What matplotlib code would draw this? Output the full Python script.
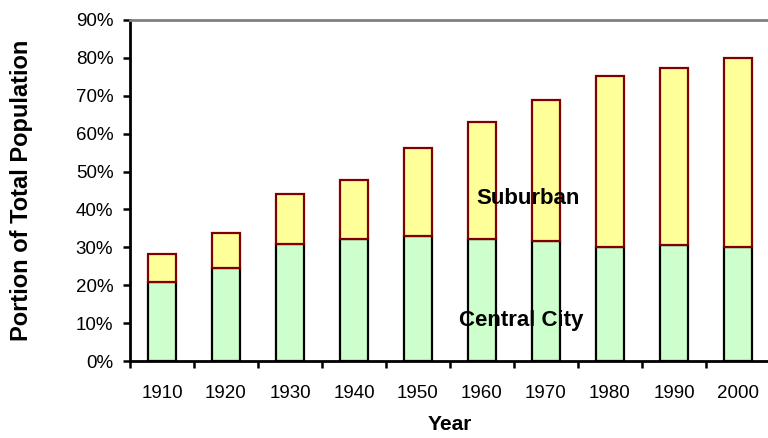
import matplotlib.pyplot as plt
import numpy as np

plt.rcParams['font.family'] = ['Liberation Sans', 'DejaVu Sans']

years = ['1910', '1920', '1930', '1940', '1950', '1960', '1970', '1980', '1990', '2000']
central_city = [20.9, 24.5, 30.9, 32.3, 33.0, 32.3, 31.6, 30.2, 30.7, 30.2]
total = [28.2, 33.7, 44.2, 47.8, 56.3, 63.2, 68.9, 75.2, 77.3, 80.1]
suburban = [t - c for t, c in zip(total, central_city)]

fig = plt.figure(figsize=(7.68, 4.38), dpi=100)
ax = fig.add_axes([130 / 768, 1 - 361 / 438, 640 / 768, 341 / 438])

x = np.arange(len(years))
ax.bar(x, central_city, width=0.44, color='#CCFFCC', edgecolor='black', linewidth=1.6)
ax.bar(x, suburban, width=0.44, bottom=central_city, color='#FFFF99',
       edgecolor='#800000', linewidth=1.6)

ax.set_xlim(-0.5, len(years) - 0.5)
ax.set_ylim(0, 90)
ax.set_yticks(np.arange(0, 91, 10))
ax.set_yticklabels([f'{v}%' for v in range(0, 91, 10)], fontsize=13.5)

ax.set_xticks(np.arange(-0.5, len(years)), labels=[])
ax.set_xticks(x, labels=years, minor=True)
ax.tick_params(axis='x', which='major', direction='out', length=5, width=1.8)
ax.tick_params(axis='x', which='minor', length=0, pad=17, labelsize=13.5)
ax.tick_params(axis='y', direction='out', length=5, width=1.8, pad=7)

for s in ['left', 'bottom']:
    ax.spines[s].set_linewidth(2)
ax.spines['right'].set_visible(False)
ax.spines['top'].set_color('#808080')
ax.spines['top'].set_linewidth(2)

ax.text(5.72, 43, 'Suburban', ha='center', va='center', fontsize=16, fontweight='bold')
ax.text(5.62, 10.7, 'Central City', ha='center', va='center', fontsize=16, fontweight='bold')

ax.set_ylabel('Portion of Total Population', fontsize=17, fontweight='bold')
ax.yaxis.set_label_coords(-0.152, 0.5)
ax.set_xlabel('Year', fontsize=15, fontweight='bold')
ax.xaxis.set_label_coords(0.5, -0.158)

fig.savefig('out.png', dpi=100)
